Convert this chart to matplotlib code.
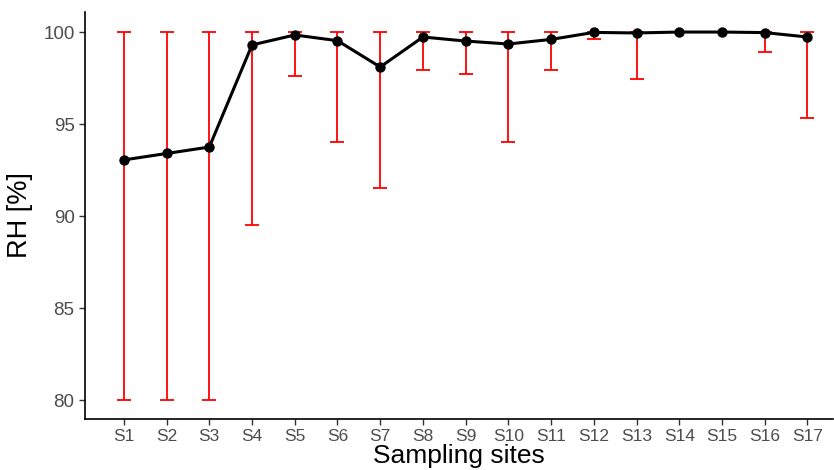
import numpy as np
import matplotlib
matplotlib.use("Agg")
import matplotlib.pyplot as plt

plt.rcParams['font.family'] = ['Liberation Sans', 'DejaVu Sans']

# mean RH per sampling site and the min / max range
sites = ["S%d" % i for i in range(1, 18)]
rh_mean = [93.05, 93.4, 93.75, 99.3, 99.84, 99.53, 98.1, 99.73, 99.51,
           99.35, 99.6, 99.98, 99.95, 100.0, 100.0, 99.97, 99.73]
rh_min = [80.0, 80.0, 80.0, 89.5, 97.63, 94.04, 91.52, 97.93, 97.73,
          94.04, 97.93, 99.64, 97.43, 100.0, 100.0, 98.93, 95.33]
rh_max = [100.0] * 17

x = np.arange(1, len(sites) + 1)
mean = np.array(rh_mean)
lower = mean - np.array(rh_min)
upper = np.array(rh_max) - mean

fig = plt.figure(figsize=(8.34, 4.70), dpi=100)
ax = fig.add_axes([0.1019, 0.1085, 0.897, 0.866])

ax.errorbar(x, mean, yerr=[lower, upper], fmt="none", ecolor="#FF0000",
            elinewidth=1.3, capsize=5, capthick=1.3, zorder=2)
ax.plot(x, mean, color="black", lw=2.2, zorder=3)
ax.scatter(x, mean, s=42, color="black", zorder=4)

ax.set_xlim(0.09, 17.6)
ax.set_ylim(78.97, 101.09)
ax.set_xticks(x)
ax.set_xticklabels(sites)
ax.set_yticks([80, 85, 90, 95, 100])

for s in ["top", "right"]:
    ax.spines[s].set_visible(False)
for s in ["left", "bottom"]:
    ax.spines[s].set_linewidth(1.2)
ax.tick_params(axis="both", colors="#333333", labelcolor="#4D4D4D",
               labelsize=12.5, length=4, width=1.0)
ax.tick_params(axis="y", labelsize=13.5)

ax.set_xlabel("Sampling sites", fontsize=19, labelpad=0)
ax.set_ylabel("RH [%]", fontsize=19.5, labelpad=7)

fig.savefig("out.png", dpi=100)
